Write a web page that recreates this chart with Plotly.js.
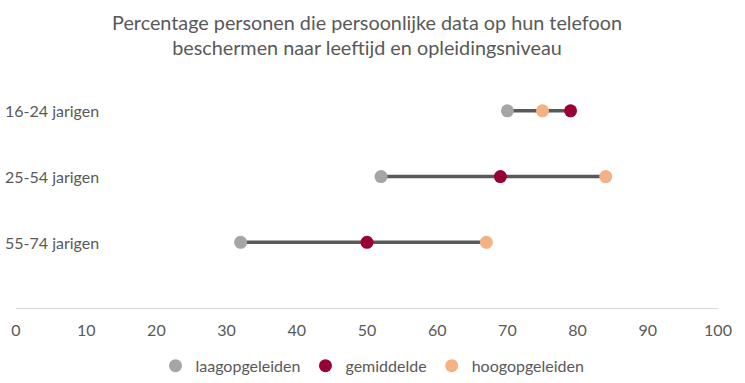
<!DOCTYPE html>
<html>
<head>
<meta charset="utf-8">
<script src="https://cdn.plot.ly/plotly-3.0.1.min.js"></script>
<style>html,body{margin:0;padding:0;background:#fff}#chart{width:745px;height:383px}</style>
</head>
<body>
<div id="chart"></div>
<script>
var categories = ["16-24 jarigen", "25-54 jarigen", "55-74 jarigen"];
var laagopgeleiden = [70, 52, 32];
var gemiddelde = [79, 69, 50];
var hoogopgeleiden = [75, 84, 67];
var xTicks = [0, 10, 20, 30, 40, 50, 60, 70, 80, 90, 100];

var yPos = categories.map(function(c, i){ return categories.length - i; });

var lx = [], ly = [];
categories.forEach(function(c, i){
  var vals = [laagopgeleiden[i], gemiddelde[i], hoogopgeleiden[i]];
  lx.push(Math.min.apply(null, vals), Math.max.apply(null, vals), null);
  ly.push(yPos[i], yPos[i], null);
});

var font = "Lato, 'Open Sans', sans-serif";
var txt = "#595959";

var traces = [
  {x: lx, y: ly, mode: "lines", line: {color: "#595959", width: 3.5}, showlegend: false, hoverinfo: "skip"},
  {x: laagopgeleiden, y: yPos, name: "laagopgeleiden", mode: "markers", marker: {color: "#A5A5A5", size: 13}},
  {x: gemiddelde, y: yPos, name: "gemiddelde", mode: "markers", marker: {color: "#990033", size: 13}},
  {x: hoogopgeleiden, y: yPos, name: "hoogopgeleiden", mode: "markers", marker: {color: "#F4B183", size: 13}}
];

var yLabels = categories.map(function(c, i){
  return {text: c, xref: "paper", x: -13/702, xanchor: "left", yref: "y", y: yPos[i], yanchor: "middle",
          showarrow: false, font: {size: 16, color: txt, family: font}};
});

var layout = {
  width: 745, height: 383,
  margin: {l: 16, r: 27, t: 78, b: 75},
  paper_bgcolor: "#fff", plot_bgcolor: "#fff",
  font: {family: font, color: txt, size: 16},
  title: {
    text: "Percentage personen die persoonlijke data op hun telefoon<br>beschermen naar leeftijd en opleidingsniveau",
    font: {family: font, size: 19.8, color: txt},
    x: 0.5, xanchor: "center", xref: "paper",
    y: 1 - 29.5/383, yanchor: "middle", yref: "container"
  },
  annotations: yLabels,
  xaxis: {
    range: [0, 100], tickvals: xTicks, ticktext: xTicks.map(String),
    showgrid: false, zeroline: false, showline: true, linecolor: "#D9D9D9", linewidth: 1,
    ticks: "", tickfont: {size: 16, color: txt}, ticklabelstandoff: 8, fixedrange: true
  },
  yaxis: {
    range: [0, 3.5], showticklabels: false,
    showgrid: false, zeroline: false, showline: false, ticks: "", fixedrange: true
  },
  legend: {
    orientation: "h", x: 0.5, xanchor: "center", xref: "container",
    y: 0.045, yanchor: "middle", yref: "container",
    font: {size: 16, color: txt}, itemwidth: 30, traceorder: "normal"
  },
  showlegend: true
};

Plotly.newPlot("chart", traces, layout, {displayModeBar: false, staticPlot: true});
</script>
</body>
</html>
